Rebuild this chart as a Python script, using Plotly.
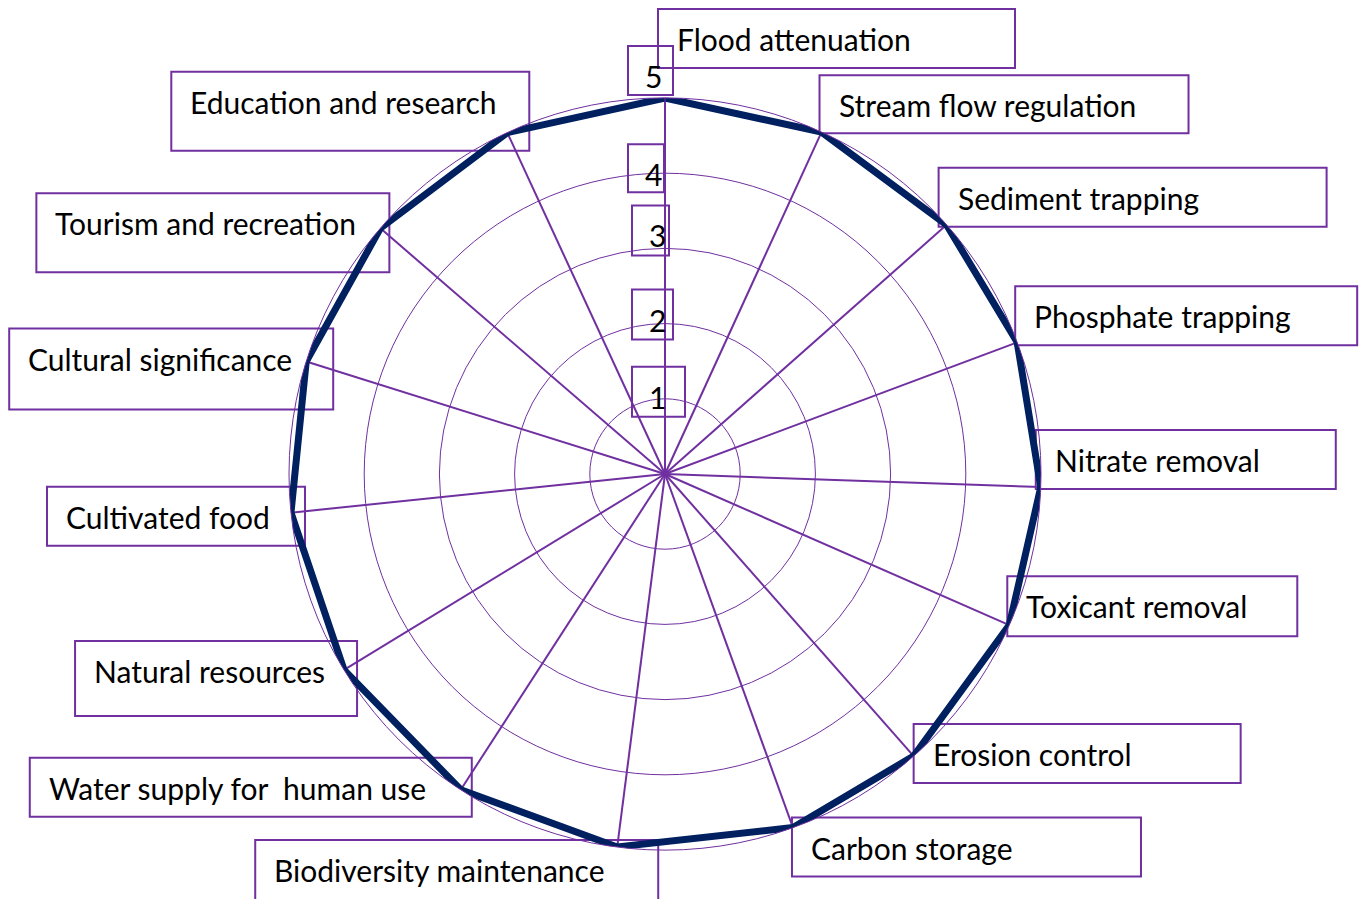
import numpy as np
import plotly.graph_objects as go

# ---------------- data ----------------
categories = [
    "Flood attenuation", "Stream flow regulation", "Sediment trapping",
    "Phosphate trapping", "Nitrate removal", "Toxicant removal",
    "Erosion control", "Carbon storage", "Biodiversity maintenance",
    "Water supply for\u00a0 human use", "Natural resources", "Cultivated food",
    "Cultural significance", "Tourism and recreation", "Education and research",
]
scores = [5, 5, 5, 5, 5, 5, 5, 5, 5, 5, 5, 5, 5, 5, 5]
# spoke directions (degrees clockwise from top)
spoke_angles = [0, 24.6, 48.5, 69.5, 92, 113.7, 138.6, 160.1, 187.3,
                212.9, 238.6, 264.1, 287.4, 310.8, 335.2]
radial_ticks = [1, 2, 3, 4, 5]
radial_tick_labels = ["1", "2", "3", "4", "5"]

# ---------------- layout / style ----------------
W, H = 1367, 899
CX, CY, R = 665, 474, 376          # polar centre and radius in px
RMAX = 5
PX_PER_UNIT = R / RMAX
PURPLE = "#7030A0"
NAVY = "#002060"
FONT = dict(family="Lato, 'Open Sans', sans-serif", size=30, color="black")

# label boxes: (dx, dy, w, h) in px, box top-left relative to its anchor (screen, down +)
label_boxes = [
    (-7, -89, 357, 59), (-2, -57, 369, 58), (-8, -57, 388, 59),
    (-2, -56, 342, 59), (-5, -57, 300, 59), (-2, -49, 290, 60),
    (0, -32, 327, 59), (-1, -10, 349, 59), (-362, -7, 403, 62),
    (-431, -32, 442, 59), (-269, -29, 282, 75), (-244, -26, 258, 59),
    (-297, -33, 324, 81), (-344, -35, 353, 79), (-336, -61, 358, 79),
]
tick_boxes = [
    (-33, -32, 53, 50), (-33, -34, 41, 50), (-33, -43, 37, 50),
    (-37, -29, 36, 48), (-37, -52, 45, 49),
]
TEXT_DX, TEXT_DY = 17, 30
TICK_TEXT_DX = 15

dom_x = [(CX - R) / W, (CX + R) / W]
dom_y = [(H - CY - R) / H, (H - CY + R) / H]
# full-page cartesian overlay sharing the polar scale (for label anchoring)
x_range = [-CX / PX_PER_UNIT, (W - CX) / PX_PER_UNIT]
y_range = [-(H - CY) / PX_PER_UNIT, CY / PX_PER_UNIT]

fig = go.Figure()

fig.add_trace(go.Scatter(x=[], y=[], xaxis="x", yaxis="y", showlegend=False,
                         hoverinfo="skip"))

fig.add_trace(go.Scatterpolar(
    r=scores + scores[:1],
    theta=spoke_angles + spoke_angles[:1],
    mode="lines",
    line=dict(color=NAVY, width=7),
    showlegend=False,
    hoverinfo="skip",
))

shapes, annotations = [], []


def add_box(ax, ay, box, text, text_dx):
    dx, dy, w, h = box
    shapes.append(dict(
        type="rect", xref="x", yref="y", xsizemode="pixel", ysizemode="pixel",
        xanchor=ax, yanchor=ay, x0=dx, x1=dx + w, y0=-(dy + h), y1=-dy,
        line=dict(color=PURPLE, width=2), fillcolor="rgba(0,0,0,0)", layer="below",
    ))
    annotations.append(dict(
        x=ax, y=ay, xref="x", yref="y", text=text, showarrow=False,
        xanchor="left", yanchor="middle", xshift=dx + text_dx, yshift=-(dy + TEXT_DY),
        font=FONT,
    ))


for cat, val, ang, box in zip(categories, scores, spoke_angles, label_boxes):
    t = np.deg2rad(ang)
    add_box(val * np.sin(t), val * np.cos(t), box, cat, TEXT_DX)

for tv, tl, box in zip(radial_ticks, radial_tick_labels, tick_boxes):
    add_box(0, tv, box, tl, TICK_TEXT_DX)

fig.update_layout(
    width=W, height=H,
    margin=dict(l=0, r=0, t=0, b=0, pad=0),
    paper_bgcolor="white",
    plot_bgcolor="rgba(0,0,0,0)",
    showlegend=False,
    xaxis=dict(domain=[0, 1], range=x_range, visible=False, fixedrange=True),
    yaxis=dict(domain=[0, 1], range=y_range, visible=False, fixedrange=True),
    polar=dict(
        domain=dict(x=dom_x, y=dom_y),
        bgcolor="rgba(0,0,0,0)",
        angularaxis=dict(
            rotation=90, direction="clockwise", thetaunit="degrees",
            tickmode="array", tickvals=spoke_angles, ticktext=categories,
            showticklabels=False, ticks="",
            showgrid=True, gridcolor=PURPLE, gridwidth=1.8,
            showline=True, linecolor=PURPLE, linewidth=1,
        ),
        radialaxis=dict(
            range=[0, RMAX], tickmode="array", tickvals=radial_ticks,
            showticklabels=False, ticks="",
            showgrid=True, gridcolor=PURPLE, gridwidth=1,
            showline=True, linecolor=PURPLE, linewidth=1, angle=90,
        ),
    ),
    shapes=shapes,
    annotations=annotations,
)

fig.write_html(
    "out.html",
    config={"displayModeBar": False},
    post_script="document.body.style.margin='0';document.body.style.overflow='hidden';",
)
